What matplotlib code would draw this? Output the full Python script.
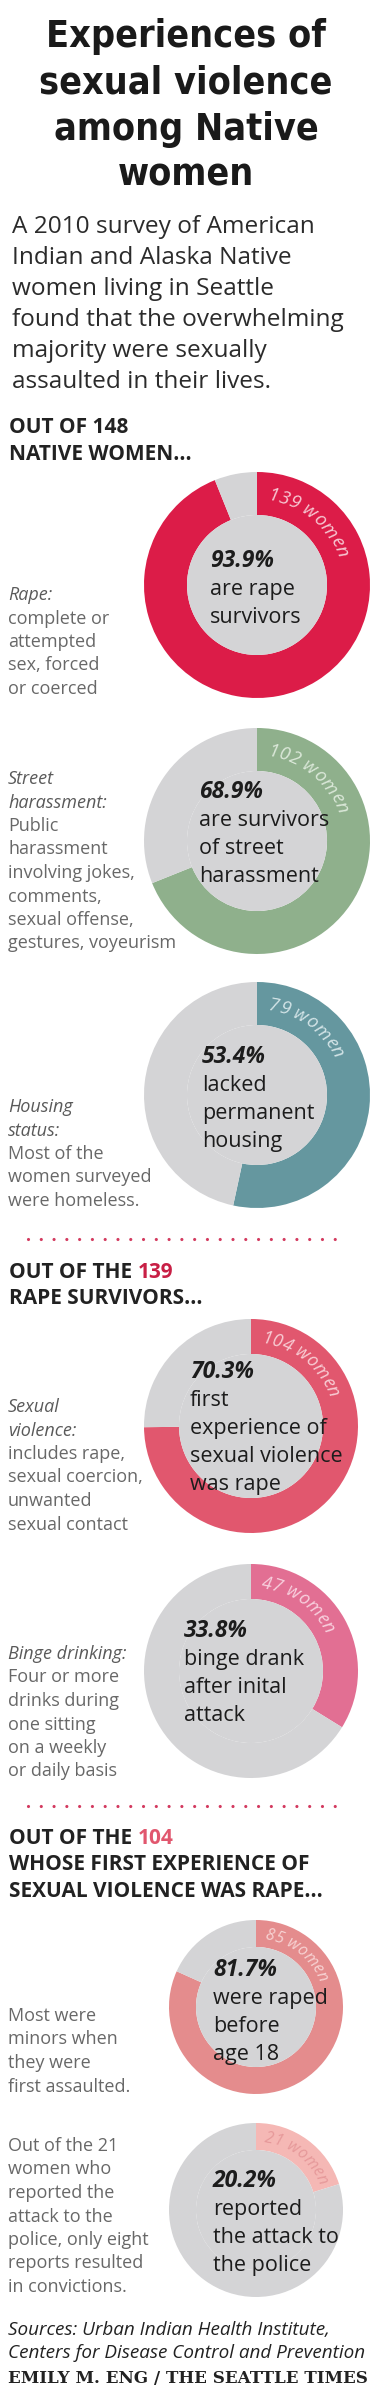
import matplotlib
matplotlib.use("Agg")
import matplotlib.pyplot as plt
from matplotlib.font_manager import FontProperties, fontManager
import numpy as np

W, H = 375, 2391

pcts = [93.9, 68.9, 53.4, 70.3, 33.8, 81.7, 20.2]
counts = [139, 102, 79, 104, 47, 85, 21]
bases = [148, 148, 148, 139, 139, 104, 104]   # ring drawn as counts / bases
stat_lines = [["are rape", "survivors"],
              ["are survivors", "of street", "harassment"],
              ["lacked", "permanent", "housing"],
              ["first", "experience of", "sexual violence", "was rape"],
              ["binge drank", "after inital", "attack"],
              ["were raped", "before", "age 18"],
              ["reported", "the attack to", "the police"]]
note_terms = [["Rape:"], ["Street", "harassment:"], ["Housing", "status:"],
              ["Sexual", "violence:"], ["Binge drinking:"], [], []]
note_body = [["complete or", "attempted", "sex, forced", "or coerced"],
             ["Public", "harassment", "involving jokes,", "comments,", "sexual offense,", "gestures, voyeurism"],
             ["Most of the", "women surveyed", "were homeless."],
             ["includes rape,", "sexual coercion,", "unwanted", "sexual contact"],
             ["Four or more", "drinks during", "one sitting", "on a weekly", "or daily basis"],
             ["Most were", "minors when", "they were", "first assaulted."],
             ["Out of the 21", "women who", "reported the", "attack to the", "police, only eight", "reports resulted", "in convictions."]]
title_lines = ["Experiences of", "sexual violence", "among Native", "women"]
intro_lines = ["A 2010 survey of American", "Indian and Alaska Native", "women living in Seattle",
               "found that the overwhelming", "majority were sexually", "assaulted in their lives."]
headers = [("OUT OF 148", "", "NATIVE WOMEN..."),
           ("OUT OF THE ", "139", "RAPE SURVIVORS..."),
           ("OUT OF THE ", "104", "WHOSE FIRST EXPERIENCE OF\nSEXUAL VIOLENCE WAS RAPE...")]
sources = ["Sources: Urban Indian Health Institute,", "Centers for Disease Control and Prevention"]
credit = "EMILY M. ENG / THE SEATTLE TIMES"

# ---- layout / style ----
GRAY = "#d4d4d6"
ring_colors = ["#dc1c48", "#8fb08c", "#65979f", "#e1576e", "#e26f93", "#e48c8d", "#f5b8b5"]
label_colors = ["#f7c9d3", "#dbe8d9", "#d3e4e7", "#f8cdd4", "#f8d0de", "#f7d3d3", "#e6999a"]
centers = [(257, 585), (257, 841), (257, 1095), (251, 1426), (251, 1671), (256, 2007), (256, 2210)]
radii = [113, 113, 113, 107, 107, 87, 87]
rings = [43, 43, 43, 35, 35, 27, 27]
label_sizes = [13.5, 13.5, 13.5, 13, 13, 11.5, 11.5]
stat_x = [210, 199, 202, 190, 184, 213, 213]
stat_y = [567, 798, 1063, 1378, 1637, 1976, 2187]
note_y = [600, 784, 1112, 1412, 1659, 2021, 2151]
header_y = [433, 1278, 1844]
dots_y = [1239, 1806]
number_colors = ["#222222", "#c81f45", "#e1576e"]

DARK = "#222222"
NOTE = "#686868"
SANS = "Open Sans"

fig = plt.figure(figsize=(W / 100, H / 100), dpi=100)
ax = fig.add_axes([0, 0, 1, 1])
rend = fig.canvas.get_renderer()


def text_width(s, prop):
    return rend.get_text_width_height_descent(s, prop, ismath=False)[0]


def fit_size(s, prop, target):
    # font size (pt) so that s is target px wide
    return prop.get_size_in_points() * target / text_width(s, prop)


# title: a condensed bold face if one is installed
cond = [f.fname for f in fontManager.ttflist
        if f.name == "DejaVu Sans" and "Condensed" in f.fname and f.weight in ("bold", 700)]
names = {f.name for f in fontManager.ttflist}
if cond:
    tprop = FontProperties(fname=cond[0], size=30)
elif "Liberation Sans Narrow" in names:
    tprop = FontProperties(family="Liberation Sans Narrow", weight="bold", size=30)
else:
    tprop = FontProperties(family="Roboto", weight="bold", size=30)
tprop.set_size(fit_size("sexual violence", tprop, 292))
for i, line in enumerate(title_lines):
    ax.text(186, 47 + i * 46.3, line, ha="center", va="baseline", fontproperties=tprop,
            color="#1a1a1a")

# intro
for i, line in enumerate(intro_lines):
    ax.text(12, 233 + i * 31, line, ha="left", va="baseline", family=SANS,
            fontsize=17.6, color="#2b2b2b")

# section headers
for (a, num, rest), y, nc in zip(headers, header_y, number_colors):
    t = ax.text(9, y, a, ha="left", va="baseline", family=SANS, weight="bold",
                fontsize=15, color=DARK)
    if num:
        ax.annotate(num, xy=(1, 0), xycoords=t, ha="left", va="bottom", family=SANS,
                    weight="bold", fontsize=15, color=nc)
    for j, line in enumerate(rest.split("\n")):
        ax.text(9, y + 26.5 * (j + 1), line, ha="left", va="baseline", family=SANS,
                weight="bold", fontsize=15, color=DARK)

# dotted separators
for y in dots_y:
    ax.plot([28, 347], [y, y], color="#d33a5f", lw=2.3, linestyle=(0, (0.001, 4.0)),
            dash_capstyle="round")


def arc_label(cx, cy, mid, s, size, color, start=7):
    prop = FontProperties(family=SANS, style="italic", size=size)
    px = size * 100 / 72
    rr = mid - 0.33 * px
    for i, ch in enumerate(s):
        if ch == " ":
            continue
        c = text_width(s[:i + 1], prop) - text_width(ch, prop) / 2
        th = np.radians(start) + c / rr
        ax.text(cx + rr * np.sin(th), cy - rr * np.cos(th), ch, rotation=-np.degrees(th),
                rotation_mode="anchor", ha="center", va="baseline", fontproperties=prop,
                color=color)


# donuts
for i in range(len(pcts)):
    cx, cy = centers[i]
    R, w = radii[i], rings[i]
    ax.pie([counts[i], bases[i] - counts[i]], colors=[ring_colors[i], GRAY], radius=R,
           center=(cx, cy), startangle=-90, counterclock=True,
           wedgeprops=dict(width=w, linewidth=0), frame=True)
    ax.add_patch(plt.Circle((cx, cy), R - w, color=GRAY, lw=0))
    arc_label(cx, cy, R - w / 2, f"{counts[i]} women", label_sizes[i], label_colors[i])

    ax.text(stat_x[i], stat_y[i], f"{pcts[i]:.1f}%", ha="left", va="baseline", family=SANS,
            weight="bold", style="italic", fontsize=16.5, color="#1c1c1c")
    for j, line in enumerate(stat_lines[i]):
        ax.text(stat_x[i], stat_y[i] + 28 * (j + 1), line, ha="left", va="baseline",
                family=SANS, fontsize=15.5, color="#1c1c1c")

    y = note_y[i]
    for line in note_terms[i]:
        ax.text(8, y, line, ha="left", va="baseline", family=SANS, style="italic",
                fontsize=13, color="#5a5a5a")
        y += 23.5
    for line in note_body[i]:
        ax.text(8, y, line, ha="left", va="baseline", family=SANS, fontsize=13, color=NOTE)
        y += 23.5

# sources & credit
sprop = FontProperties(family=SANS, style="italic", size=12)
ssize = fit_size(sources[1], sprop, 358)
for i, line in enumerate(sources):
    ax.text(8, 2335 + i * 23, line, ha="left", va="baseline", family=SANS, style="italic",
            fontsize=ssize, color=DARK)
cprop = FontProperties(family="DejaVu Serif", weight="bold", size=12)
csize = fit_size(credit, cprop, 360)
ax.text(8, 2383, credit, ha="left", va="baseline", family="DejaVu Serif", weight="bold",
        fontsize=csize, color=DARK)

ax.set_xlim(0, W)
ax.set_ylim(H, 0)
ax.set_aspect("auto")
ax.axis("off")
fig.savefig("out.png", dpi=100, facecolor="white")
